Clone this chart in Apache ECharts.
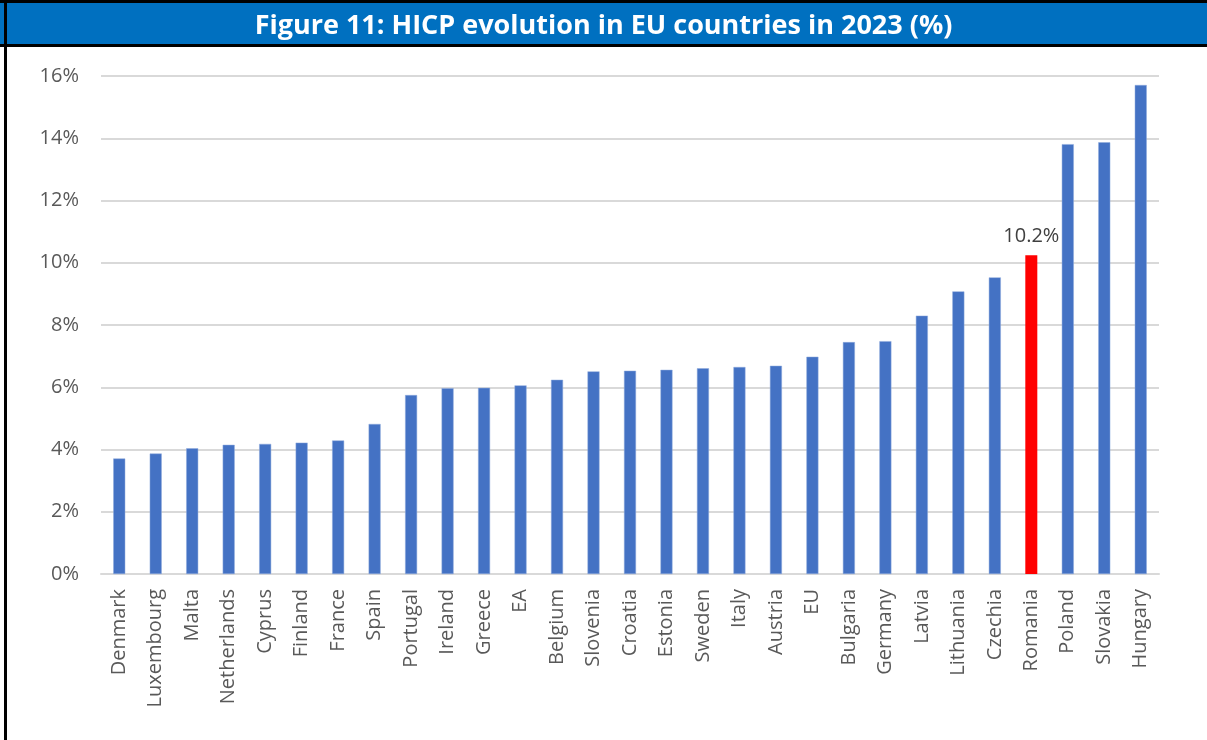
<!DOCTYPE html>
<html>
<head>
<meta charset="utf-8">
<script src="https://cdn.jsdelivr.net/npm/echarts@6/dist/echarts.min.js"></script>
<style>
  html, body { margin: 0; padding: 0; width: 100%; height: 100%; background: #fff; }
  #myChart { width: 1207px; height: 740px; }
</style>
</head>
<body>
<div id="myChart"></div>
<script>
const countries = ["Denmark", "Luxembourg", "Malta", "Netherlands", "Cyprus", "Finland", "France", "Spain",
  "Portugal", "Ireland", "Greece", "EA", "Belgium", "Slovenia", "Croatia", "Estonia", "Sweden", "Italy",
  "Austria", "EU", "Bulgaria", "Germany", "Latvia", "Lithuania", "Czechia", "Romania", "Poland", "Slovakia", "Hungary"];
const hicp = [3.71, 3.87, 4.04, 4.15, 4.18, 4.22, 4.29, 4.82, 5.75, 5.97, 5.98, 6.06, 6.24, 6.51, 6.53, 6.56,
  6.61, 6.65, 6.69, 6.98, 7.45, 7.48, 8.3, 9.08, 9.53, 10.24, 13.81, 13.87, 15.71];
const highlighted = "Romania";
const highlightLabel = "10.2%";
const yTicks = [0, 2, 4, 6, 8, 10, 12, 14, 16];

const seriesData = hicp.map((v, i) => {
  if (countries[i] === highlighted) {
    return {
      value: v,
      itemStyle: { color: "#ff0000", borderWidth: 0 },
      label: {
        show: true,
        position: "top",
        distance: 9,
        formatter: highlightLabel,
        color: "#404040",
        fontSize: 20,
        fontFamily: "Open Sans"
      }
    };
  }
  return v;
});

const myChart = echarts.init(document.getElementById("myChart"));

const option = {
  backgroundColor: "#ffffff",
  animation: false,
  title: {
    text: "Figure 11: HICP evolution in EU countries in 2023 (%)",
    left: "center",
    top: 8,
    textStyle: {
      color: "#ffffff",
      fontWeight: "bold",
      fontSize: 27,
      fontFamily: "Open Sans"
    }
  },
  graphic: {
    elements: [
      // blue banner
      { type: "rect", z: -1, shape: { x: 0, y: 0, width: 1207, height: 47 }, style: { fill: "#0070c0" } },
      // frame lines
      { type: "rect", z: 0, shape: { x: 0, y: 0, width: 1207, height: 3 }, style: { fill: "#000" } },
      { type: "rect", z: 0, shape: { x: 0, y: 44, width: 1207, height: 3 }, style: { fill: "#000" } },
      { type: "rect", z: 0, shape: { x: 4, y: 0, width: 3, height: 740 }, style: { fill: "#000" } }
    ]
  },
  grid: {
    left: 101,
    right: 48,
    top: 76,
    bottom: 166
  },
  xAxis: {
    type: "category",
    data: countries,
    axisLine: { lineStyle: { color: "#d9d9d9", width: 2 } },
    axisTick: { show: false },
    axisLabel: {
      rotate: 90,
      interval: 0,
      margin: 15,
      color: "#595959",
      fontSize: 20,
      fontFamily: "Open Sans"
    }
  },
  yAxis: {
    type: "value",
    min: yTicks[0],
    max: yTicks[yTicks.length - 1],
    interval: 2,
    axisLine: { show: false },
    axisTick: { show: false },
    splitLine: { lineStyle: { color: "#d9d9d9", width: 2 } },
    axisLabel: {
      formatter: "{value}%",
      margin: 22,
      color: "#595959",
      fontSize: 20,
      fontFamily: "Open Sans"
    }
  },
  series: [
    {
      type: "bar",
      data: seriesData,
      barWidth: 12,
      itemStyle: { color: "#4472c4", borderColor: "#8faadc", borderWidth: 0.5 }
    }
  ]
};

myChart.setOption(option);
</script>
</body>
</html>
